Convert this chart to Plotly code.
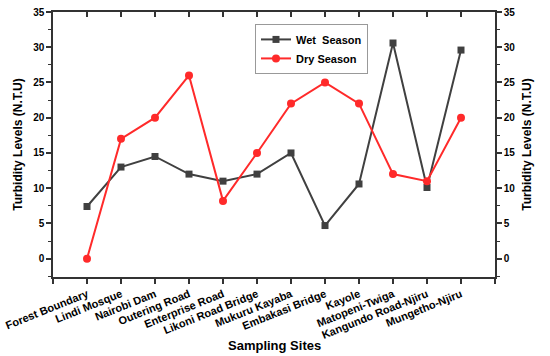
import plotly.graph_objects as go

sites = ["Forest Boundary", "Lindi Mosque", "Nairobi Dam", "Outering Road", "Enterprise Road",
         "Likoni Road Bridge", "Mukuru Kayaba", "Embakasi Bridge", "Kayole", "Matopeni-Twiga",
         "Kangundo Road-Njiru", "Mungetho-Njiru"]
wet = [7.4, 13.0, 14.5, 12.0, 11.0, 12.0, 15.0, 4.7, 10.6, 30.6, 10.1, 29.6]
dry = [0.0, 17.0, 20.0, 26.0, 8.2, 15.0, 22.0, 25.0, 22.0, 12.0, 11.0, 20.0]
y_ticks = [0, 5, 10, 15, 20, 25, 30, 35]

idx = list(range(len(sites)))
font = "Liberation Sans, Arial, sans-serif"

fig = go.Figure()
fig.add_trace(go.Scatter(x=idx, y=wet, mode="lines+markers", name="Wet  Season",
                         line=dict(color="#404040", width=2),
                         marker=dict(symbol="square", size=7, color="#404040")))
fig.add_trace(go.Scatter(x=idx, y=dry, mode="lines+markers", name="Dry Season",
                         line=dict(color="#ff2a2a", width=2),
                         marker=dict(symbol="circle", size=8, color="#ff2a2a")))
# invisible trace to activate secondary axes
fig.add_trace(go.Scatter(x=idx, y=wet, xaxis="x2", yaxis="y2", mode="lines",
                         line=dict(color="rgba(0,0,0,0)"), showlegend=False, hoverinfo="skip"))

tickvals = [-1] + idx + [len(sites)]
ticktext = [""] + sites + [""]
yr = [-2.6, 35]

fig.update_layout(
    width=550, height=356,
    margin=dict(l=53, r=55, t=12, b=79, autoexpand=False),
    plot_bgcolor="white", paper_bgcolor="white",
    font=dict(family=font, color="black"),
    showlegend=True,
    legend=dict(x=0.457, y=0.955, xanchor="left", yanchor="top",
                bgcolor="white", bordercolor="#999999", borderwidth=1,
                font=dict(size=11, family=font, weight="bold"),
                tracegroupgap=0, itemwidth=30),
    xaxis=dict(range=[-1, len(sites)], tickvals=tickvals, ticktext=ticktext, automargin=False,
               tickangle=-22, ticks="outside", ticklen=5, tickwidth=1.5, tickcolor="#333",
               showline=True, linewidth=1.5, linecolor="#333", showgrid=False, zeroline=False,
               tickfont=dict(size=11, family=font, weight="bold")),
    xaxis2=dict(range=[-1, len(sites)], tickvals=tickvals, overlaying="x", side="top", automargin=False,
                ticks="inside", ticklen=5, tickwidth=1.5, tickcolor="#333", showticklabels=False,
                showline=True, linewidth=1.5, linecolor="#333", showgrid=False, zeroline=False),
    yaxis=dict(range=yr, tickvals=y_ticks, ticks="outside", ticklen=5, tickwidth=1.5, tickcolor="#333",
               minor=dict(ticks="outside", ticklen=3, dtick=2.5, tickcolor="#333", tickwidth=1),
               showline=True, linewidth=1.5, linecolor="#333", showgrid=False, zeroline=False, automargin=False,
               tickfont=dict(size=10, family=font, weight="bold"),
               title=dict(text="<b>Turbidity Levels (N.T.U)</b>", font=dict(size=12, family=font), standoff=8)),
    yaxis2=dict(range=yr, tickvals=y_ticks, overlaying="y", side="right", anchor="x2", automargin=False,
                ticks="outside", ticklen=5, tickwidth=1.5, tickcolor="#333",
                minor=dict(ticks="outside", ticklen=3, dtick=2.5, tickcolor="#333", tickwidth=1),
                showline=True, linewidth=1.5, linecolor="#333", showgrid=False, zeroline=False,
                tickfont=dict(size=10, family=font, weight="bold"),
                title=dict(text="<b>Turbidity Levels (N.T.U)</b>", font=dict(size=12, family=font), standoff=8)),
    annotations=[dict(text="<b>Sampling Sites</b>", xref="paper", yref="paper", x=0.5, y=-0.26,
                      xanchor="center", yanchor="middle", showarrow=False,
                      font=dict(size=13, family=font, color="black"))],
)

fig.write_html("out.html", config={"displayModeBar": False},
               post_script="document.body.style.margin='0';")
